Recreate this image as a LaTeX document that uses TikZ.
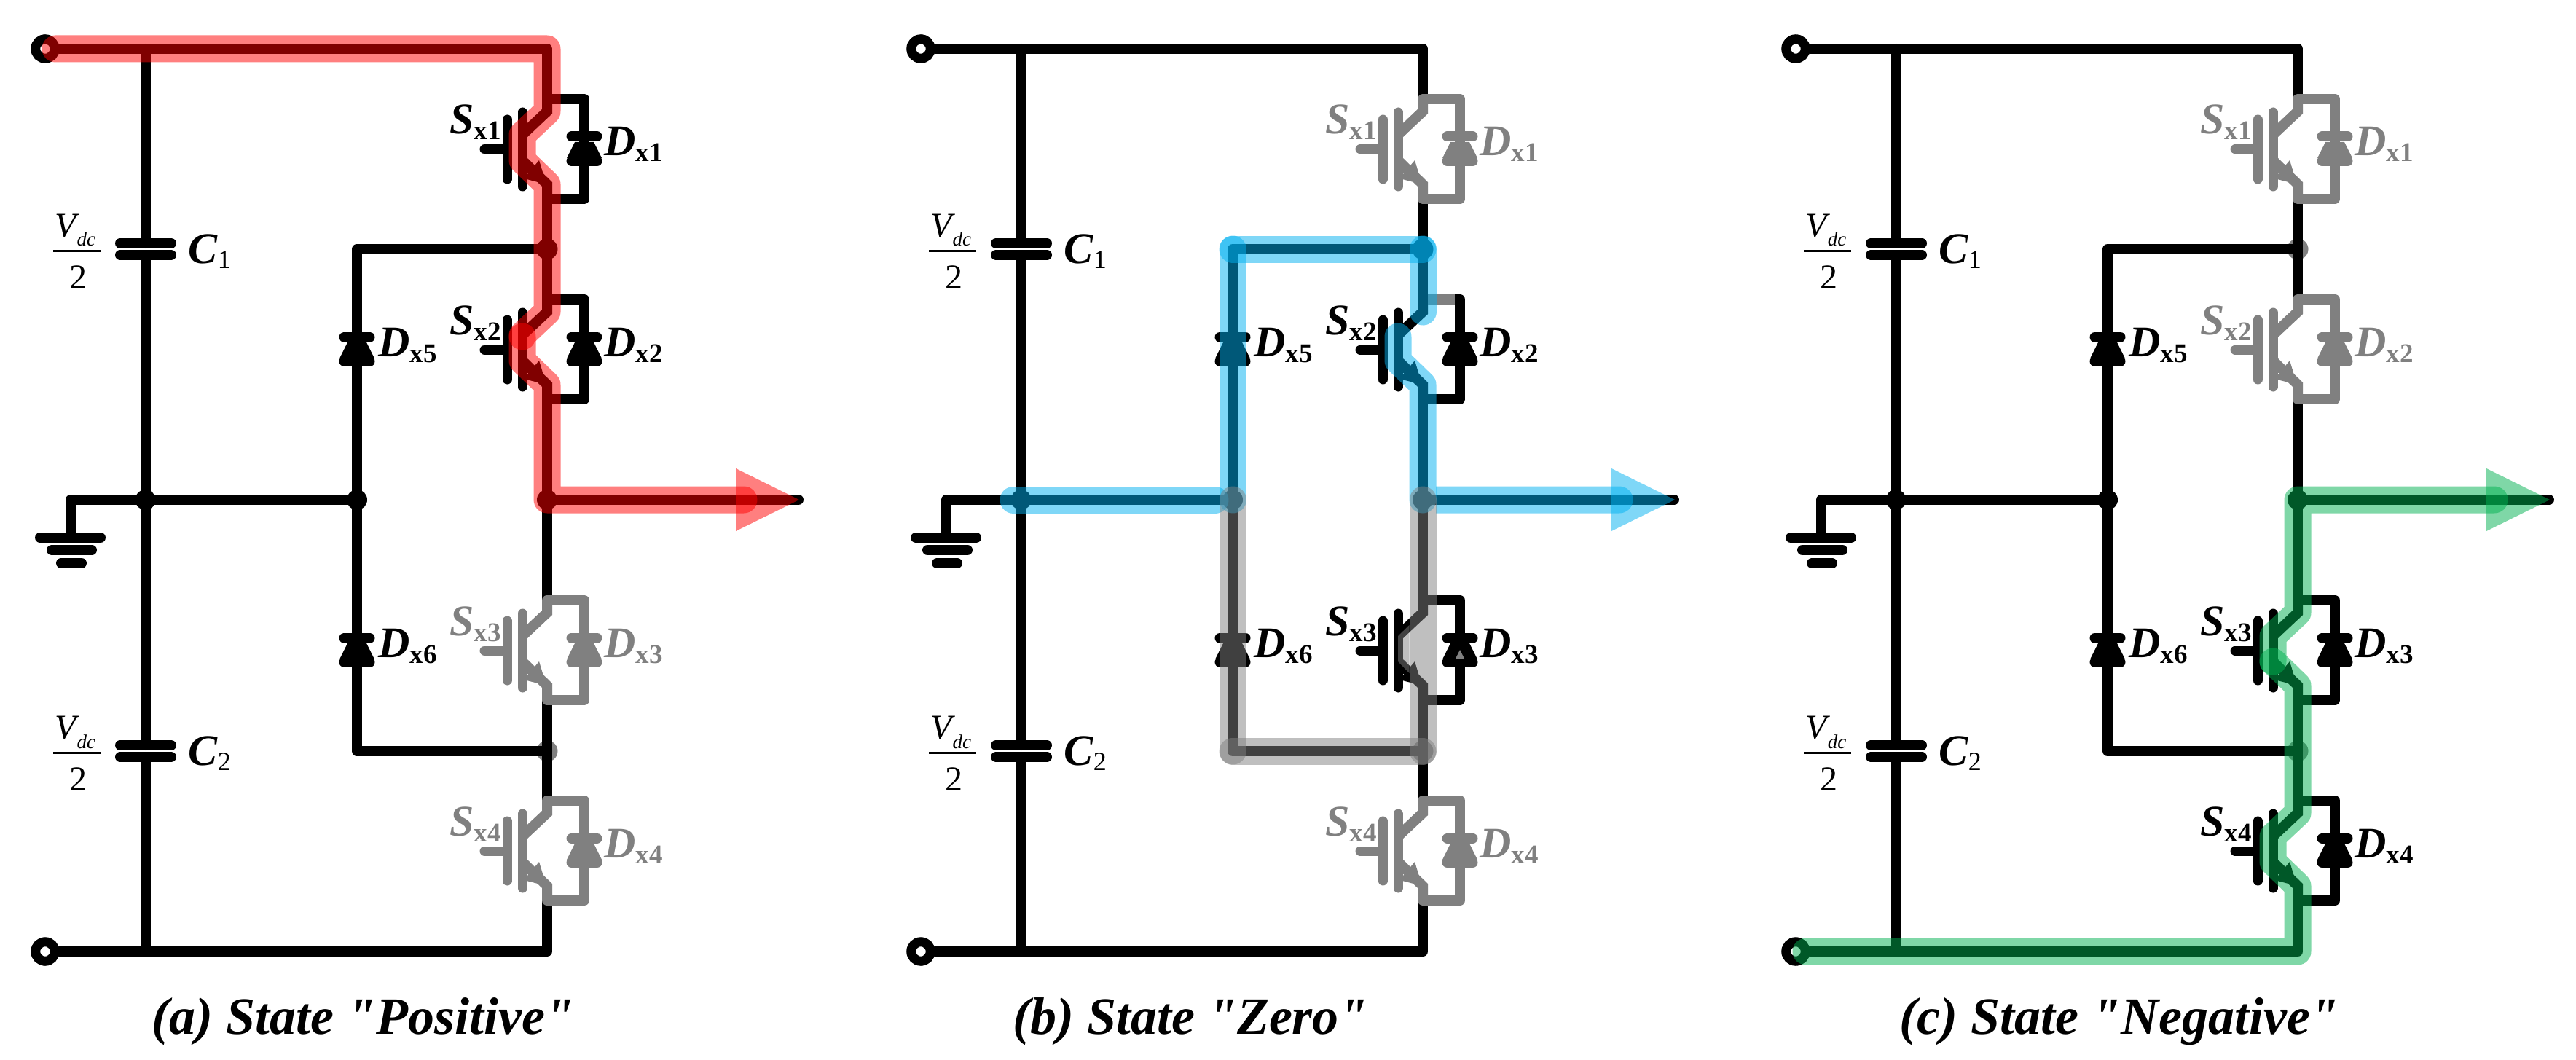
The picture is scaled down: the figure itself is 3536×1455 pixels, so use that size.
\documentclass[tikz,border=0pt]{standalone}
\usepackage{fontspec}
\setmainfont{Liberation Serif}
\newfontfamily\titlefont{Liberation Serif}
\definecolor{offgray}{HTML}{808080}
\definecolor{hlred}{HTML}{FF0000}
\definecolor{hlblue}{HTML}{00B0F0}
\definecolor{hlgreen}{HTML}{00B050}
\tikzset{
  wire/.style={line width=14pt, line cap=round, line join=round},
  hl/.style={line width=37pt, draw opacity=0.5, line cap=round, line join=round},
  lab/.style={inner sep=0pt, anchor=base west, font=\fontsize{60}{62}\selectfont},
  capbig/.style={inner sep=0pt, anchor=base west, font=\fontsize{60}{62}\selectfont},
  fracpart/.style={inner sep=0pt, anchor=base, font=\fontsize{48}{50}\selectfont},
  title/.style={inner sep=0pt, anchor=base, font=\titlefont\fontsize{72}{74}\selectfont\bfseries\itshape},
  terminal/.style={circle, draw, line width=13pt, minimum size=26.5pt, inner sep=0pt},
}
\newcommand{\sublab}[2]{\textbf{\textit{#1}}\raisebox{-8pt}{\fontsize{37}{37}\selectfont\textbf{#2}}}
% diode, apex up, around the current origin
\newcommand{\diodeat}[1]{
  \fill[#1] (-13,-10) -- (13,-10) -- (24,12) -- (-24,12) -- cycle;
  \draw[wire, #1] (-17.5,-17.5) -- (17.5,-17.5);
  \draw[wire, #1] (-17.5,16) -- (17.5,16);
}
% switch with its diode: panel, number, centre y, colour
\newcommand{\swcell}[4]{
  \begin{scope}[shift={(0,#3)}]
    \coordinate (#1-s#2-t) at (751,-69);
    \coordinate (#1-s#2-d) at (751,-52);
    \coordinate (#1-s#2-b) at (717,-20);
    \coordinate (#1-s#2-m) at (717,-18);
    \coordinate (#1-s#2-e) at (717,15);
    \coordinate (#1-s#2-f) at (751,48);
    \coordinate (#1-s#2-g) at (751,68);
    \coordinate (#1-s#2-r) at (802,-69);
    \coordinate (#1-s#2-q) at (802,68);
    \draw[wire, #4, line width=13pt] (665,0) -- (696,0);
    \draw[wire, #4, line width=13pt] (696,-41) -- (696,41);
    \draw[wire, #4, line width=13pt] (717,-51) -- (717,51);
    \draw[wire, #4, line cap=butt, line join=miter] (#1-s#2-t) -- (#1-s#2-d) -- (#1-s#2-b);
    \draw[wire, #4, line cap=butt, line join=miter] (#1-s#2-e) -- (#1-s#2-f) -- (#1-s#2-g);
    \fill[#4] (740,15) -- (750,48) -- (719,40) -- cycle;
    \draw[wire, #4] (#1-s#2-t) -- (#1-s#2-r) -- (#1-s#2-q) -- (#1-s#2-g);
    \begin{scope}[shift={(802,0)}]
      \diodeat{#4}
    \end{scope}
    \node[lab, text=#4] (#1-S#2) at (617,-21) {\sublab{S}{x#2}};
    \node[lab, text=#4] (#1-D#2) at (829,9) {\sublab{D}{x#2}};
  \end{scope}
}
% one capacitor with its labels: panel, number, y
\newcommand{\capcell}[3]{
  \coordinate (#1-cap#2-up) at (199.5,#3-8);
  \coordinate (#1-cap#2-lo) at (199.5,#3+8);
  \draw[wire] (165,#3-8) -- (235,#3-8);
  \draw[wire] (165,#3+8) -- (235,#3+8);
  \node[capbig] (#1-C#2) at (258,#3+19) {\textbf{\textit{C}}\raisebox{-7pt}{\fontsize{36}{36}\selectfont #2}};
  \node[fracpart] (#1-V#2) at (103.5,#3-17) {\textit{V}\kern-4pt\raisebox{-13pt}{\fontsize{27}{27}\selectfont\textit{dc}}};
  \node[fracpart] (#1-two#2) at (107,#3+54) {2};
  \coordinate (#1-barl#2) at (73,#3+2);
  \coordinate (#1-barr#2) at (138,#3+2);
  \draw[line width=3pt] (#1-barl#2) -- (#1-barr#2);
}
% the circuit: panel, colours of S1..S4, colours of the two dots
\newcommand{\basecircuit}[7]{
  \coordinate (#1-rt) at (751,67);
  \coordinate (#1-rb) at (751,1306);
  \coordinate (#1-ct) at (199.5,67);
  \coordinate (#1-cb) at (199.5,1306);
  \coordinate (#1-n) at (199.5,686);
  \coordinate (#1-g) at (97,686);
  \coordinate (#1-g0) at (97,738);
  \coordinate (#1-j1) at (751,342);
  \coordinate (#1-j2) at (751,686);
  \coordinate (#1-j3) at (751,1031);
  \coordinate (#1-k1) at (490,342);
  \coordinate (#1-k2) at (490,686);
  \coordinate (#1-k3) at (490,1031);
  \coordinate (#1-out) at (1096,686);
  \node[terminal] (#1-tt) at (62,67) {};
  \node[terminal] (#1-tb) at (62,1306) {};
  \fill (#1-n) circle (14);
  \fill (#1-k2) circle (14);
  \fill (#1-j2) circle (14);
  \fill[#6] (#1-j1) circle (14.5);
  \fill[#7] (#1-j3) circle (14.5);
  % wires
  \capcell{#1}{1}{342}
  \capcell{#1}{2}{1031}
  \draw[wire] (#1-ct) -- (#1-cap1-up);
  \draw[wire] (#1-cap1-lo) -- (#1-cap2-up);
  \draw[wire] (#1-cap2-lo) -- (#1-cb);
  \draw[wire] (#1-g0) -- (#1-g) -- (#1-n) -- (#1-k2);
  \draw[wire] (#1-j1) -- (#1-k1) -- (#1-k3) -- (#1-j3);
  \draw[wire] (#1-j2) -- (#1-out);
  \draw[wire] (#1-tt) -- (#1-rt) -- (751,136);
  \draw[wire] (751,273) -- (751,411);
  \draw[wire] (751,549) -- (751,824);
  \draw[wire] (751,962) -- (751,1100);
  \draw[wire] (751,1237) -- (#1-rb) -- (#1-tb);
  \draw[wire] (55,738) -- (138,738);
  \draw[wire] (71,755) -- (126,755);
  \draw[wire] (84,773) -- (112,773);
  % switches
  \foreach \n/\cy/\col in {1/205/#2, 2/480/#3, 3/893/#4, 4/1168/#5} {
    \swcell{#1}{\n}{\cy}{\col}
  }
  % clamp diodes
  \foreach \n/\cy in {5/480, 6/893} {
    \begin{scope}[shift={(490,\cy)}]
      \diodeat{black}
    \end{scope}
    \node[lab] (#1-D\n) at (519,\cy+9) {\sublab{D}{x\n}};
  }
  \coordinate (#1-au) at (1010,643);
  \coordinate (#1-ad) at (1010,729);
  \coordinate (#1-ae) at (1021,686);
  \coordinate (#1-tip) at (1097,686);
}
\begin{document}
\begin{tikzpicture}[x=1pt, y=-1pt]
  \useasboundingbox (0,0) rectangle (3536,1455);

  % state positive
  \basecircuit{a}{black}{black}{offgray}{offgray}{black}{offgray}
  \draw[hl, hlred] (76,67) -- (a-rt) -- (a-s1-d) -- (a-s1-b) -- (a-s1-e) -- (a-s1-f) -- (a-s2-d) -- (a-s2-b) -- (a-s2-m);
  \draw[hl, hlred] (a-s2-m) -- (a-s2-e) -- (a-s2-f) -- (a-j2) -- (a-ae);
  \fill[hlred, opacity=0.5] (a-au) -- (a-tip) -- (a-ad) -- cycle;
  \node[title] (capa) at (498,1419) {(a) State "Positive"};

  % state zero
  \begin{scope}[shift={(1202,0)}]
    \basecircuit{b}{offgray}{black}{black}{offgray}{black}{offgray}
    \draw[wire, offgray, line cap=butt] (758,411) -- (795,411);
    \fill[offgray] (802,892) -- (796,904) -- (808,904) -- cycle;
    \draw[hl, hlblue] (189,686) -- (466,686);
    \draw[hl, hlblue] (b-k2) -- (b-k1);
    \draw[hl, hlblue] (b-k1) -- (b-j1);
    \draw[hl, hlblue] (b-j1) -- (b-s2-d);
    \draw[hl, hlblue] (b-s2-m) -- (b-s2-e) -- (b-s2-f) -- (b-j2);
    \fill[hlblue, opacity=0.5] (769,667.5) -- (1021,667.5) arc[start angle=-90, end angle=90, radius=18.5] -- (769,704.5) -- cycle;
    \fill[hlblue, opacity=0.5] (b-au) -- (b-tip) -- (b-ad) -- cycle;
    \draw[hl, offgray] (b-k2) -- (b-k3);
    \draw[hl, offgray] (b-k3) -- (b-j3);
    \draw[hl, offgray] (b-j3) -- (b-j2);
    \fill[offgray, opacity=0.5] (732.5,858) -- (717,873) -- (717,908) -- (732.5,924) -- cycle;
    \node[title] (capb) at (432,1419) {(b) State "Zero"};
  \end{scope}

  % state negative
  \begin{scope}[shift={(2403,0)}]
    \basecircuit{c}{offgray}{offgray}{black}{black}{offgray}{offgray}
    \draw[hl, hlgreen] (c-ae) -- (c-j2) -- (c-s3-d) -- (c-s3-b) -- (c-s3-e);
    \draw[hl, hlgreen] (c-s3-e) -- (c-s3-f) -- (c-s4-d) -- (c-s4-b) -- (c-s4-e) -- (c-s4-f) -- (c-rb) -- (76,1306);
    \fill[hlgreen, opacity=0.5] (c-au) -- (c-tip) -- (c-ad) -- cycle;
    \node[title] (capc) at (506,1419) {(c) State "Negative"};
  \end{scope}
\end{tikzpicture}
\end{document}
